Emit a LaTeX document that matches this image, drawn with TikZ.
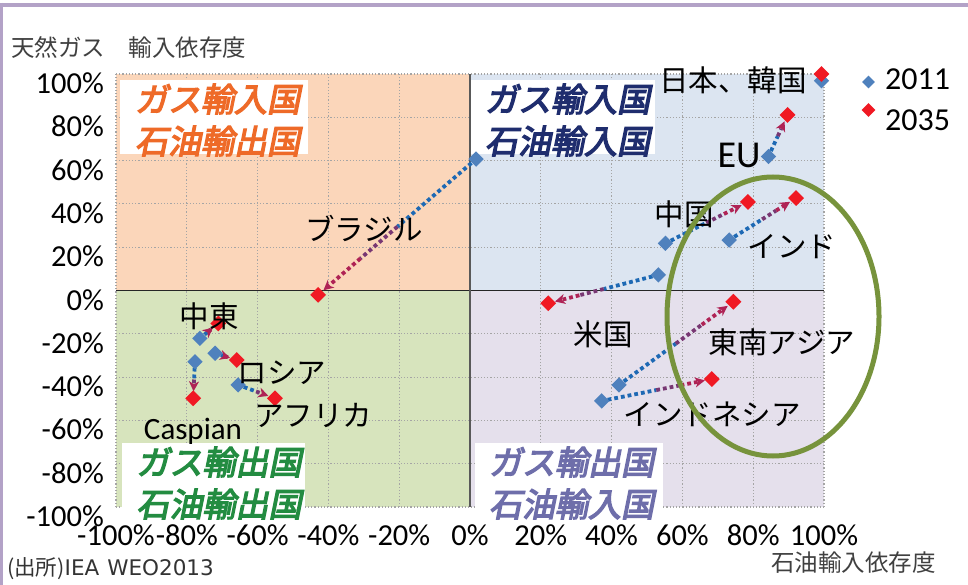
\documentclass[tikz,border=0pt]{standalone}
\usepackage{fontspec}
\setmainfont{Carlito}
\newfontfamily\jp{Noto Sans CJK JP}
\newfontfamily\jpq{Noto Sans CJK JP}[FakeBold=4,FakeSlant=0.2]
\newfontfamily\dv{DejaVu Sans}
\usetikzlibrary{shapes.geometric,arrows.meta,calc}
\pgfdeclarelayer{back}
\pgfdeclarelayer{lines}
\pgfsetlayers{back,lines,main}
\definecolor{cTL}{RGB}{251,214,186}
\definecolor{cTR}{RGB}{220,229,241}
\definecolor{cBL}{RGB}{215,228,189}
\definecolor{cBR}{RGB}{229,224,236}
\definecolor{cgrid}{RGB}{165,165,165}
\definecolor{cblue}{RGB}{79,129,189}
\definecolor{cline}{RGB}{30,105,180}
\definecolor{cpurp}{RGB}{120,55,115}
\definecolor{cwine}{RGB}{175,35,85}
\definecolor{cred}{RGB}{240,25,35}
\definecolor{cgreen}{RGB}{119,147,60}
\definecolor{cframe}{RGB}{179,162,199}
\definecolor{qorange}{RGB}{238,106,40}
\definecolor{qnavy}{RGB}{31,45,110}
\definecolor{qgreen}{RGB}{35,140,65}
\definecolor{qlav}{RGB}{110,110,170}
\definecolor{ctitle}{RGB}{64,64,64}
\newcommand\trend[2]{%
  \path ($(#1.center)!6pt!(#2.center)$) coordinate (#1s)
        ($(#2.center)!7pt!(#1.center)$) coordinate (#1e);
  \draw[dotb] (#1s) -- ($(#1s)!0.5!(#1e)$) coordinate (#1m);
  \draw[dotp] (#1m) -- ($(#1s)!0.75!(#1e)$) coordinate (#1n);
  \draw[dotr] (#1n) -- (#1e);}
\begin{document}
\begin{tikzpicture}[x=1pt,y=-1pt,
  gridl/.style={draw=cgrid, line width=1.2pt, dash pattern=on 1.2pt off 2pt},
  dotb/.style={draw=cline, line width=3.8pt, dash pattern=on 3.8pt off 3pt},
  dotp/.style={draw=cpurp, line width=3.8pt, dash pattern=on 3.8pt off 3pt},
  dotr/.style={draw=cwine, line width=3.8pt, dash pattern=on 3.8pt off 3pt,
    -{Stealth[length=10pt,width=10pt,inset=3pt]}},
  bdia/.style={diamond, fill=cblue, inner sep=0pt, minimum width=15.5pt, minimum height=15.5pt},
  rdia/.style={diamond, fill=cred, inner sep=0pt, minimum width=16pt, minimum height=16pt},
  mlab/.style={font=\jp\fontsize{29.5}{32}\selectfont, inner sep=0pt},
  qlab/.style={font=\jpq\fontsize{33}{42}\selectfont, align=center, inner sep=0pt},
  tick/.style={font=\fontsize{30.5}{33}\selectfont, inner sep=0pt},
  ttl/.style={font=\jp\fontsize{23.5}{26}\selectfont, text=ctitle, inner sep=0pt},
]
\useasboundingbox (0,0) rectangle (968,585);
\begin{pgfonlayer}{back}
  \fill[white] (0,0) rectangle (968,585);
\end{pgfonlayer}
\draw[cframe, line width=4pt] (0,5) -- (968,5);
\draw[cframe, line width=3.5pt] (1.5,3) -- (1.5,585);

\begin{scope}[shift={(470pt,-290.5pt)}, x=3.54pt, y=2.165pt]
  \begin{pgfonlayer}{back}
    \fill[cTL] (-100,0) rectangle (0,100);
    \fill[cTR] (0,0) rectangle (100,100);
    \fill[cBL] (-100,-100) rectangle (0,0);
    \fill[cBR] (0,-100) rectangle (100,0);
    \foreach \v in {-100,-80,...,100} {
      \draw[gridl] (\v,-100) -- (\v,100);
      \draw[gridl] (-100,\v) -- (100,\v);
    }
    \draw[line width=1.2pt, draw=black!85] (-100,0) -- (100,0);
    \draw[line width=1.5pt, draw=black!65] (0,-100) -- (0,100);
  \end{pgfonlayer}
  % 2011
  \node[bdia] (brB) at (1.7,60.7) {};
  \node[bdia] (jpB) at (99.3,96.9) {};
  \node[bdia] (euB) at (84.3,61.9) {};
  \node[bdia] (cnB) at (55.2,21.8) {};
  \node[bdia] (inB) at (73.2,23.3) {};
  \node[bdia] (usB) at (53.2,7.2) {};
  \node[bdia] (saB) at (42.1,-43.6) {};
  \node[bdia] (idB) at (37.2,-51) {};
  \node[bdia] (meB) at (-76.3,-22.1) {};
  \node[bdia] (caB) at (-77.7,-32.9) {};
  \node[bdia] (ruB) at (-72.0,-29) {};
  \node[bdia] (afB) at (-65.5,-43.6) {};
  % 2035
  \node[rdia] (brR) at (-42.9,-2) {};
  \node[rdia] (jpR) at (99.3,100) {};
  \node[rdia] (euR) at (89.7,81.1) {};
  \node[rdia] (cnR) at (78.5,40.9) {};
  \node[rdia] (inR) at (92.1,42.7) {};
  \node[rdia] (usR) at (22.1,-5.9) {};
  \node[rdia] (saR) at (74.4,-5.2) {};
  \node[rdia] (idR) at (68.3,-40.9) {};
  \node[rdia] (meR) at (-71.1,-15.2) {};
  \node[rdia] (caR) at (-78.2,-49.8) {};
  \node[rdia] (ruR) at (-65.9,-32.1) {};
  \node[rdia] (afR) at (-55.1,-49.8) {};
\end{scope}

\begin{pgfonlayer}{lines}
  \trend{brB}{brR}
  \trend{euB}{euR}
  \trend{cnB}{cnR}
  \trend{inB}{inR}
  \trend{usB}{usR}
  \trend{saB}{saR}
  \trend{idB}{idR}
  \trend{meB}{meR}
  \trend{caB}{caR}
  \trend{ruB}{ruR}
  \trend{afB}{afR}
\end{pgfonlayer}

% quadrant boxes
\begin{pgfonlayer}{back}
  \fill[white] (120,80) rectangle (308,154);
  \fill[white] (471,80) rectangle (655,154);
  \fill[white] (121.5,443) rectangle (305,520);
  \fill[white] (475,443) rectangle (663,520);
\end{pgfonlayer}
\node[qlab, text=qorange] (qTL) at (217.5,120) {ガス輸入国\\石油輸出国};
\node[qlab, text=qnavy]   (qTR) at (567.5,120) {ガス輸入国\\石油輸入国};
\node[qlab, text=qgreen]  (qBL) at (219,483) {ガス輸出国\\石油輸出国};
\node[qlab, text=qlav]    (qBR) at (571.5,483) {ガス輸出国\\石油輸入国};

% country labels
\node[mlab] (lbr) at (364,228) {ブラジル};
\node[mlab] (ljp) at (733,80) {日本、韓国};
\node[font=\fontsize{38}{40}\selectfont, inner sep=0pt] (leu) at (739,155) {EU};
\node[mlab] (lcn) at (684,214) {中国};
\node[mlab] (lin) at (792,247) {インド};
\node[mlab] (lus) at (603,334) {米国};
\node[mlab] (lsa) at (782,342) {東南アジア};
\node[mlab] (lid) at (712,414) {インドネシア};
\node[mlab] (lme) at (209,316) {中東};
\node[mlab] (lru) at (282,373) {ロシア};
\node[mlab] (laf) at (313,415) {アフリカ};
\node[font=\fontsize{31}{33}\selectfont, inner sep=0pt] (lca) at (193,431) {Caspian};

% tick labels
\foreach \v in {-100,-80,...,100} {
  \node[tick, anchor=base east] (yl\v) at (104,{290.5-2.165*\v+19.5}) {\v\%};
  \node[tick, anchor=base] (xl\v) at ({470+3.54*\v},545) {\v\%};
}

% titles
\node[ttl, anchor=west] (ytitle) at (11,48) {天然ガス　輸入依存度};
\node[ttl] (xtitle) at (853.5,562.5) {石油輸入依存度};
\node[anchor=west, inner sep=0pt, text=black!80, font=\dv\fontsize{21.5}{24}\selectfont] (src) at (7,569) {{\jp (出所)}IEA\hspace{8pt}WEO2013};

% legend
\node[bdia, minimum width=13pt, minimum height=13pt] (lgB) at (868.5,82) {};
\node[anchor=base west, inner sep=0pt, font=\fontsize{32}{34}\selectfont] (lgBt) at (885,90) {2011};
\node[rdia, minimum width=14pt, minimum height=14pt] (lgR) at (868.5,110) {};
\node[anchor=base west, inner sep=0pt, font=\fontsize{32}{34}\selectfont] (lgRt) at (885,131) {2035};

% highlight
\node[ellipse, draw=cgreen, line width=5pt, minimum width=212pt, minimum height=279pt, inner sep=0pt] (focus) at (773,316.5) {};
\end{tikzpicture}
\end{document}
